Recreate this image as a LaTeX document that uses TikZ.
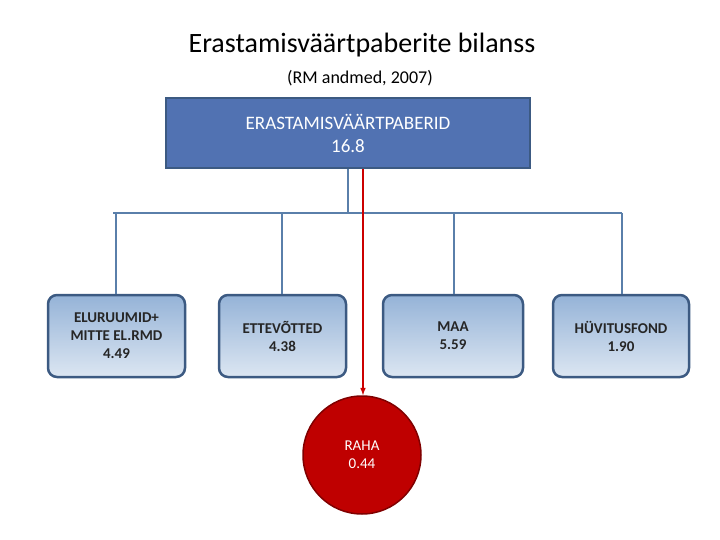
\documentclass[tikz,border=0pt]{standalone}
\usepackage{fontspec}
\setmainfont{Carlito}
\begin{document}
\begin{tikzpicture}[x=1pt,y=-1pt,
  conn/.style={draw=blue!30!black!50!cyan!70!gray,line width=1.2pt},
  sub/.style={rounded corners=9pt,draw=bordc,line width=2.5pt,top color=topc,bottom color=botc,
     align=center,font=\bfseries\fontsize{15}{18}\selectfont,text=black!85},
]
\definecolor{bordc}{HTML}{3C5A82}
\definecolor{topc}{HTML}{95B3D7}
\definecolor{botc}{HTML}{DCE6F2}
\definecolor{linec}{HTML}{5A7FAA}
\useasboundingbox (0,0) rectangle (720,540);
\node (title) at (362,45) {\fontsize{28}{32}\selectfont Erastamisväärtpaberite bilanss};
\node (subt) at (360,78) {\fontsize{18}{22}\selectfont (RM andmed, 2007)};
\node[draw=bordc,line width=1.5pt,fill=linec!90!blue,minimum width=364pt,minimum height=70pt,align=center,text=white,font=\fontsize{19}{23}\selectfont] (top) at (348,133) {ERASTAMISVÄÄRTPABERID\\16.8};
\node[sub,minimum width=137pt,minimum height=82pt] (a) at (116.5,336) {ELURUUMID+\\MITTE EL.RMD\\4.49};
\node[sub,minimum width=127pt,minimum height=82pt] (b) at (282.5,336) {ETTEVÕTTED\\4.38};
\node[sub,minimum width=140pt,minimum height=82pt] (c) at (453,336) {MAA\\5.59};
\node[sub,minimum width=136pt,minimum height=82pt] (d) at (621,336) {HÜVITUSFOND\\1.90};
\node[circle,draw=red!50!black,line width=1.5pt,fill=red!75!black,minimum size=118pt,align=center,text=white,font=\fontsize{15}{18}\selectfont] (e) at (362,455) {RAHA\\0.44};
\coordinate (j) at (348,213);
\draw[draw=linec,line width=1.5pt] (top.south -| j) -- (j);
\draw[draw=linec,line width=1.2pt] (113,213) -- (622,213);
\foreach \n/\x in {a/116,b/282,c/454,d/622}
  \draw[draw=linec,line width=1.2pt] (\x,213) -- (\n.north -| \x,0);
\draw[red!80!black,line width=1.5pt,-latex] (top.south -| 363,0) -- (e.north -| 363,0);
\end{tikzpicture}
\end{document}
